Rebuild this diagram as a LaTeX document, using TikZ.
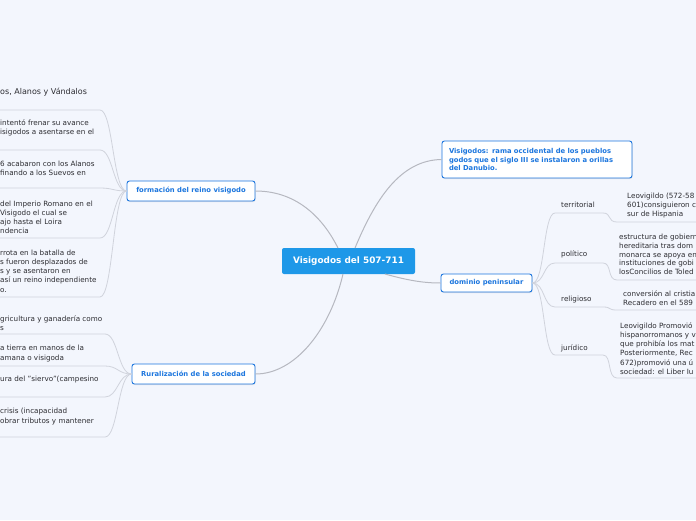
\documentclass[tikz,border=0pt]{standalone}
\usepackage{fontspec}
\setmainfont{DejaVu Sans}
\usetikzlibrary{shadows}
\definecolor{bg}{RGB}{243,246,253}
\definecolor{topicblue}{RGB}{28,118,222}
\definecolor{centerblue}{RGB}{30,152,232}
\definecolor{conn}{RGB}{182,184,192}
\definecolor{subline}{RGB}{208,211,220}
\definecolor{txt}{RGB}{45,45,50}
\begin{document}
\begin{tikzpicture}[x=1pt,y=-1pt,
  topic/.style={draw=topicblue, fill=white, rounded corners=2.5pt, line width=0.9pt,
    text=topicblue, font=\fontsize{6.8}{8.6}\selectfont\bfseries, inner sep=0pt,
    drop shadow={opacity=0.18, shadow xshift=0.6pt, shadow yshift=-1pt}},
  central/.style={fill=centerblue, rounded corners=2pt, text=white,
    font=\fontsize{8.9}{10}\selectfont\bfseries, inner sep=0pt,
    minimum width=133pt, minimum height=26pt},
  leaf/.style={anchor=west, inner sep=0pt, align=left, text=txt,
    font=\fontsize{7.2}{9.2}\selectfont},
  mainconn/.style={draw=conn, line width=1pt},
  subconn/.style={draw=subline, line width=0.8pt}]
\useasboundingbox (0,0) rectangle (696,520);
\fill[bg] (0,0) rectangle (696,520);
\clip (0,0) rectangle (696,520);

% nodes
\node[central] (c) at (348.5,261) {Visigodos del 507-711};
\node[topic, minimum width=128pt, minimum height=20pt] (f) at (191,191) {formación del reino visigodo};
\node[topic, minimum width=123pt, minimum height=20pt] (r) at (193.5,374) {Ruralización de la sociedad};
\node[topic, minimum width=190pt, minimum height=37pt, text width=176pt, align=left] (v) at (537,159.5)
  {Visigodos: rama occidental de los pueblos\\godos que el siglo III se instalaron a orillas\\del Danubio.};
\node[topic, minimum width=91pt, minimum height=18pt] (d) at (486.5,283) {dominio peninsular};

% main connectors
\coordinate (cf) at (338,248);
\coordinate (cv) at (355,248);
\coordinate (cr) at (343,274);
\coordinate (cd) at (385,274);
\draw[mainconn] (cf) .. controls (325,222) and (300,191) .. (f.east);
\draw[mainconn] (cv) .. controls (375,200) and (400,160) .. (v.west);
\draw[mainconn] (cr) .. controls (330,330) and (295,374) .. (r.east);
\draw[mainconn] (cd) .. controls (410,281) and (425,283) .. (d.west);

% children of formacion
\foreach \yy/\nm in {110/fa,150/fb,188/fc,238/fd,297/fe}{
  \coordinate (\nm) at (0,\yy);
  \draw[subconn] (f.west) .. controls (113,191) and (113,\yy) .. (100,\yy) -- (\nm);
}
\node[leaf, font=\fontsize{8}{9.5}\selectfont] (f0) at (0,92) {os, Alanos y Vándalos};
\node[leaf] (f1) at (0,127.5) {intentó frenar su avance\\isigodos a asentarse en el};
\node[leaf] (f2) at (0,168) {6 acabaron con los Alanos\\finando a los Suevos en};
\node[leaf] (f3) at (0,217.5) {del Imperio Romano en el\\Visigodo el cual se\\ajo hasta el Loira\\ndencia};
\node[leaf] (f4) at (0,271) {rrota en la batalla de\\s fueron desplazados de\\s y se asentaron en\\así un reino independiente\\o.};

% children of ruralizacion
\foreach \yy/\nm in {334/ra,366/rb,397/rc,437/rd}{
  \coordinate (\nm) at (0,\yy);
  \draw[subconn] (r.west) .. controls (118,374) and (118,\yy) .. (105,\yy) -- (\nm);
}
\node[leaf] (r0) at (0,323) {gricultura y ganadería como\\s};
\node[leaf] (r1) at (0,353.5) {a tierra en manos de la\\amana o visigoda};
\node[leaf] (r2) at (0,380) {ura del "siervo"(campesino};
\node[leaf] (r3) at (0,416.5) {crisis (incapacidad\\obrar tributos y mantener};

% children of dominio peninsular
\foreach \ly/\gy/\nm in {213/222/ta,263/280/tb,307/310/tc,355/378/td}{
  \coordinate (\nm) at (696,\gy);
  \draw[subconn] (d.east) .. controls (545,283) and (543,\ly) .. (555,\ly) -- (603,\ly)
     .. controls (612,\ly) and (607,\gy) .. (617,\gy) -- (\nm);
}
\node[leaf] (d1) at (561,205) {territorial};
\node[leaf] (d2) at (561,254) {político};
\node[leaf] (d3) at (561,300) {religioso};
\node[leaf] (d4) at (561,348) {jurídico};

\node[leaf, font=\fontsize{7.2}{8.8}\selectfont] (g1) at (627,205.5) {Leovigildo (572-58\\601)consiguieron c\\sur de Hispania};
\node[leaf, font=\fontsize{7.2}{8.8}\selectfont] (g2) at (619,254.5) {estructura de gobiern\\hereditaria tras dom\\monarca se apoya en\\instituciones de gobi\\losConcilios de Toled};
\node[leaf, font=\fontsize{7.2}{8.8}\selectfont] (g3) at (623,298.5) {conversión al cristia\\Recadero en el 589};
\node[leaf, font=\fontsize{7.2}{9.2}\selectfont] (g4) at (620,348.5) {Leovigildo Promovió\\hispanorromanos y v\\que prohibía los mat\\Posteriormente, Rec\\672)promovió una ú\\sociedad: el Liber Iu};
\end{tikzpicture}
\end{document}
